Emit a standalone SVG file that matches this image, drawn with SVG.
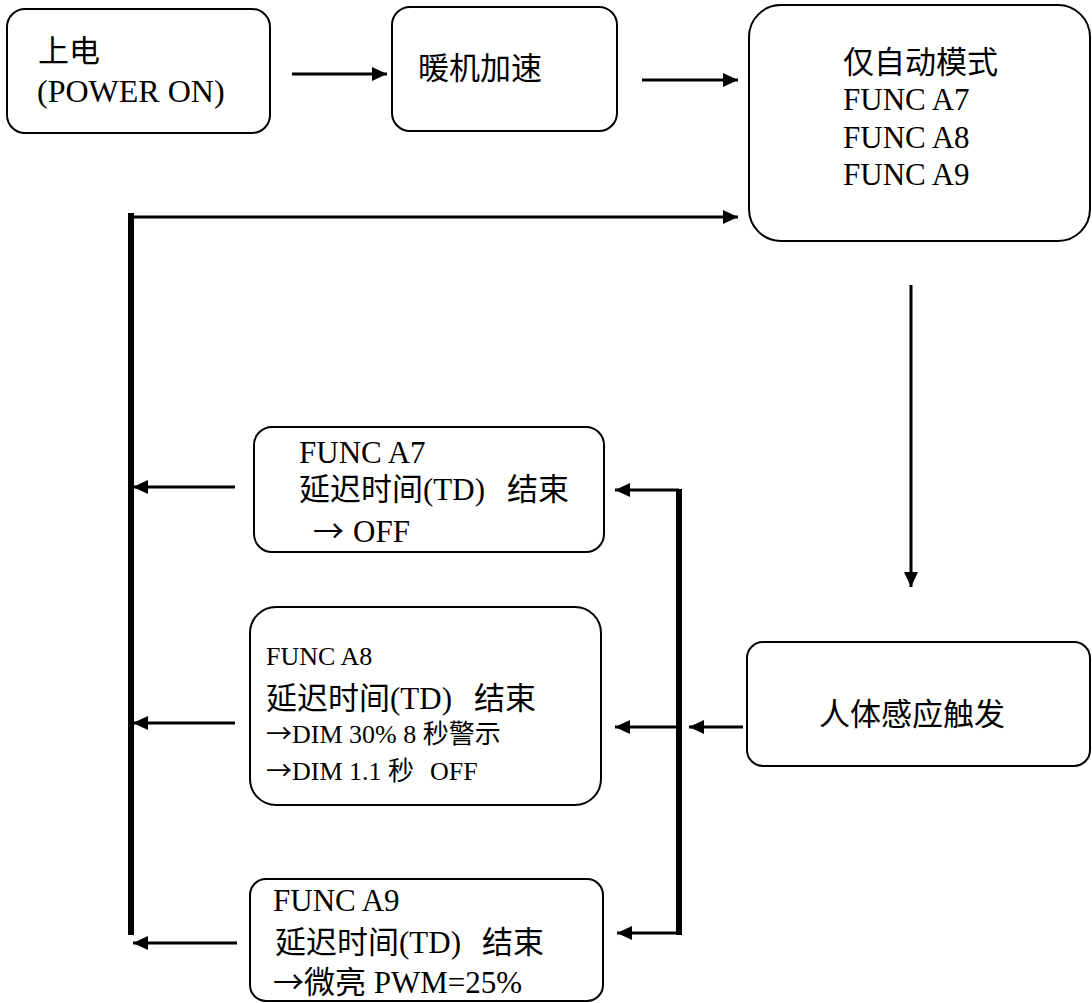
<svg xmlns="http://www.w3.org/2000/svg" width="1092" height="1003" viewBox="0 0 1092 1003">
<defs>
<marker id="ah" markerUnits="userSpaceOnUse" markerWidth="16" markerHeight="15" refX="15" refY="7" orient="auto">
<path d="M0,0 L15,7 L0,14 z" fill="#000"/>
</marker>
<style>
.box{fill:#fff;stroke:#000;stroke-width:2}
.t{font-family:"Liberation Serif","Noto Sans CJK SC",serif;font-size:31px;fill:#000}
.s{font-size:26px}
.ar{font-family:"Noto Sans CJK SC",sans-serif}
.c{fill:none;stroke:#000;stroke-width:3}
.thick{fill:none;stroke:#000;stroke-width:6}
</style>
</defs>
<rect width="1092" height="1003" fill="#fff"/>
<g id="connectors">
<line class="c" x1="292" y1="74" x2="387" y2="74" marker-end="url(#ah)"/>
<line class="c" x1="642" y1="80" x2="738" y2="80" marker-end="url(#ah)"/>
<line class="thick" x1="131" y1="213" x2="131" y2="935"/>
<line class="c" x1="131" y1="217" x2="738" y2="217" marker-end="url(#ah)"/>
<line class="c" x1="911" y1="285" x2="911" y2="587" marker-end="url(#ah)"/>
<line class="c" x1="743" y1="727" x2="689" y2="727" marker-end="url(#ah)"/>
<line class="thick" x1="679" y1="489" x2="679" y2="935"/>
<line class="c" x1="679" y1="490" x2="615" y2="490" marker-end="url(#ah)"/>
<line class="c" x1="679" y1="727" x2="615" y2="727" marker-end="url(#ah)"/>
<line class="c" x1="679" y1="933" x2="617" y2="933" marker-end="url(#ah)"/>
<line class="c" x1="235" y1="487" x2="133" y2="487" marker-end="url(#ah)"/>
<line class="c" x1="235" y1="723" x2="133" y2="723" marker-end="url(#ah)"/>
<line class="c" x1="237" y1="943" x2="133" y2="943" marker-end="url(#ah)"/>
</g>
<g id="power-on">
<rect class="box" x="7" y="9" width="263" height="124" rx="18"/>
<text class="t" x="38" y="62">上电</text>
<text class="t" x="37" y="102" style="font-size:32px">(POWER ON)</text>
</g>
<g id="warmup">
<rect class="box" x="392" y="7" width="225" height="124" rx="18"/>
<text class="t" x="418" y="79">暖机加速</text>
</g>
<g id="auto-mode">
<rect class="box" x="749" y="5" width="341" height="236" rx="32"/>
<text class="t" x="843" y="73">仅自动模式</text>
<text class="t" x="843" y="110">FUNC A7</text>
<text class="t" x="843" y="148">FUNC A8</text>
<text class="t" x="843" y="185">FUNC A9</text>
</g>
<g id="sensor">
<rect class="box" x="747" y="642" width="343" height="124" rx="16"/>
<text class="t" x="819" y="725">人体感应触发</text>
</g>
<g id="a7">
<rect class="box" x="254" y="427" width="350" height="125" rx="18"/>
<text class="t" x="299" y="463">FUNC A7</text>
<text class="t" x="299" y="500">延迟时间(TD) <tspan x="507">结束</tspan></text>
<text class="t" x="313" y="542"><tspan class="ar">→</tspan> <tspan x="353">OFF</tspan></text>
</g>
<g id="a8">
<rect class="box" x="250" y="607" width="351" height="198" rx="26"/>
<text class="t s" x="266" y="665">FUNC A8</text>
<text class="t" x="266" y="709">延迟时间(TD) <tspan x="474">结束</tspan></text>
<text class="t s" x="266" y="743"><tspan class="ar">→</tspan>DIM 30% 8 秒警示</text>
<text class="t s" x="266" y="780"><tspan class="ar">→</tspan>DIM 1.1 秒 <tspan x="430">OFF</tspan></text>
</g>
<g id="a9">
<rect class="box" x="250" y="879" width="353" height="122" rx="16"/>
<text class="t" x="273" y="911">FUNC A9</text>
<text class="t" x="275" y="953">延迟时间(TD) <tspan x="482">结束</tspan></text>
<text class="t" x="273" y="993"><tspan class="ar">→</tspan>微亮 PWM=25%</text>
</g>
</svg>
